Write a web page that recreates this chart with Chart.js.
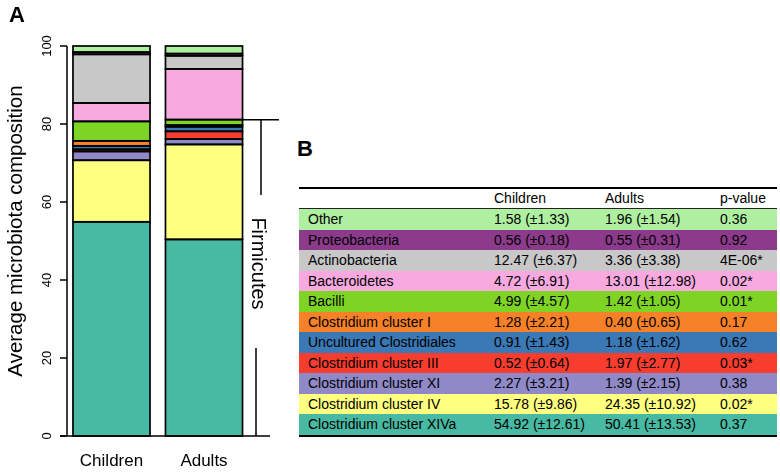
<!doctype html>
<html lang="en">
<head>
<meta charset="utf-8">
<title>Average microbiota composition</title>
<script src="https://cdn.jsdelivr.net/npm/chart.js@4.4.1/dist/chart.umd.min.js"></script>
<style>
  html, body { margin: 0; padding: 0; background: #fff; }
  body { font-family: "Liberation Sans", Arial, Helvetica, sans-serif; }
  #wrap { position: relative; width: 780px; height: 472px; overflow: hidden; }
  #chart { position: absolute; left: 0; top: 0; }
  #labelB { position: absolute; left: 297px; top: 136px; font-size: 22px; font-weight: bold; }
  #tbl {
    position: absolute; left: 299px; top: 187px; width: 478px;
    border-collapse: collapse; table-layout: fixed; font-size: 14px; color: #000;
    border-top: 2px solid #000; border-bottom: 2px solid #000;
  }
  #tbl td, #tbl th { padding: 0 0 0 7px; height: 20.5px; line-height: 20.5px; white-space: nowrap; text-align: left; font-weight: normal; }
  #tbl thead th { height: 19px; line-height: 19px; padding-top: 0; border-bottom: 1.5px solid #222; }
  #tbl td:first-child { padding-left: 9px; }
</style>
</head>
<body>
<div id="wrap">
  <canvas id="chart" width="290" height="472"></canvas>
  <div id="labelB">B</div>
  <table id="tbl">
    <colgroup><col style="width:188px"><col style="width:111px"><col style="width:115px"><col style="width:64px"></colgroup>
    <thead><tr><th></th><th>Children</th><th>Adults</th><th>p-value</th></tr></thead>
    <tbody id="tbody"></tbody>
  </table>
</div>
<script>
// table order (top to bottom); the bars stack in the reverse order
var groups = ['Other', 'Proteobacteria', 'Actinobacteria', 'Bacteroidetes', 'Bacilli',
  'Clostridium cluster I', 'Uncultured Clostridiales', 'Clostridium cluster III',
  'Clostridium cluster XI', 'Clostridium cluster IV', 'Clostridium cluster XIVa'];
var colors = ['#aef0a0', '#8c3a8c', '#c8c8c8', '#f8aae0', '#7ed424', '#f78128',
  '#3a78b6', '#f73d2e', '#8f89c8', '#ffff80', '#48b9a2'];
var childrenMean = [1.58, 0.56, 12.47, 4.72, 4.99, 1.28, 0.91, 0.52, 2.27, 15.78, 54.92];
var childrenSd = [1.33, 0.18, 6.37, 6.91, 4.57, 2.21, 1.43, 0.64, 3.21, 9.86, 12.61];
var adultsMean = [1.96, 0.55, 3.36, 13.01, 1.42, 0.40, 1.18, 1.97, 1.39, 24.35, 50.41];
var adultsSd = [1.54, 0.31, 3.38, 12.98, 1.05, 0.65, 1.62, 2.77, 2.15, 10.92, 13.53];
var pValues = ['0.36', '0.92', '4E-06*', '0.02*', '0.01*', '0.17', '0.62', '0.03*', '0.38', '0.02*', '0.37'];
var categories = ['Children', 'Adults'];
var yTicks = [0, 20, 40, 60, 80, 100];
var firmicutes = ['Bacilli', 'Clostridium cluster I', 'Uncultured Clostridiales', 'Clostridium cluster III',
  'Clostridium cluster XI', 'Clostridium cluster IV', 'Clostridium cluster XIVa'];

var FONT = '"Liberation Sans", Arial, Helvetica, sans-serif';

// table B
var tbody = document.getElementById('tbody');
groups.forEach(function (g, i) {
  var tr = document.createElement('tr');
  tr.style.background = colors[i];
  var cells = [g,
    childrenMean[i].toFixed(2) + ' (\u00b1' + childrenSd[i].toFixed(2) + ')',
    adultsMean[i].toFixed(2) + ' (\u00b1' + adultsSd[i].toFixed(2) + ')',
    pValues[i]];
  cells.forEach(function (c) {
    var td = document.createElement('td');
    td.textContent = c;
    tr.appendChild(td);
  });
  tbody.appendChild(tr);
});

// bars, bottom segment first
var datasets = [];
for (var i = groups.length - 1; i >= 0; i--) {
  datasets.push({
    label: groups[i],
    data: [childrenMean[i], adultsMean[i]],
    backgroundColor: colors[i],
    borderWidth: 0
  });
}

// R-style outlines: one stroke centred on each segment edge
var outlines = {
  id: 'outlines',
  afterDatasetsDraw: function (chart) {
    var ctx = chart.ctx;
    ctx.save();
    ctx.strokeStyle = '#000';
    ctx.lineWidth = 1.7;
    chart.data.datasets.forEach(function (ds, di) {
      chart.getDatasetMeta(di).data.forEach(function (bar) {
        var p = bar.getProps(['x', 'y', 'base', 'width'], true);
        ctx.strokeRect(p.x - p.width / 2, p.y, p.width, p.base - p.y);
      });
    });
    ctx.restore();
  }
};

var decorations = {
  id: 'decorations',
  afterDraw: function (chart) {
    var ctx = chart.ctx;
    var y = chart.scales.y, x = chart.scales.x;
    var axisX = 67;
    ctx.save();
    ctx.strokeStyle = '#000';
    ctx.fillStyle = '#000';
    ctx.lineWidth = 1.5;

    // panel letter
    ctx.font = 'bold 22px ' + FONT;
    ctx.textAlign = 'left';
    ctx.textBaseline = 'alphabetic';
    ctx.fillText('A', 9, 22);

    // y axis
    ctx.beginPath();
    ctx.moveTo(axisX, y.getPixelForValue(0));
    ctx.lineTo(axisX, y.getPixelForValue(100));
    yTicks.forEach(function (t) {
      var py = y.getPixelForValue(t);
      ctx.moveTo(axisX - 7, py);
      ctx.lineTo(axisX, py);
    });
    ctx.stroke();
    ctx.font = '13px ' + FONT;
    ctx.textAlign = 'center';
    ctx.textBaseline = 'middle';
    yTicks.forEach(function (t) {
      ctx.save();
      ctx.translate(47, y.getPixelForValue(t));
      ctx.rotate(-Math.PI / 2);
      ctx.fillText(String(t), 0, 0);
      ctx.restore();
    });

    // y title
    ctx.save();
    ctx.font = '20.5px ' + FONT;
    ctx.translate(16, 231);
    ctx.rotate(-Math.PI / 2);
    ctx.fillText('Average microbiota composition', 0, 0);
    ctx.restore();

    // x labels
    ctx.font = '17px ' + FONT;
    categories.forEach(function (c, i) {
      ctx.fillText(c, x.getPixelForValue(i), 461);
    });

    // Firmicutes bracket
    var top = 0;
    firmicutes.forEach(function (g) { top += adultsMean[groups.indexOf(g)]; });
    var pTop = y.getPixelForValue(top), pBase = y.getPixelForValue(0);
    ctx.beginPath();
    ctx.moveTo(axisX - 7, pBase); ctx.lineTo(270, pBase);
    ctx.moveTo(243, pTop); ctx.lineTo(279, pTop);
    ctx.moveTo(261, pTop); ctx.lineTo(261, 195);
    ctx.moveTo(256, 348); ctx.lineTo(256, pBase);
    ctx.stroke();
    ctx.save();
    ctx.font = '20px ' + FONT;
    ctx.translate(258, 263.5);
    ctx.rotate(Math.PI / 2);
    ctx.fillText('Firmicutes', 0, 0);
    ctx.restore();

    ctx.restore();
  }
};

new Chart(document.getElementById('chart').getContext('2d'), {
  type: 'bar',
  data: { labels: categories, datasets: datasets },
  options: {
    responsive: false,
    animation: false,
    layout: { padding: { left: 65.25, right: 39.75, top: 46, bottom: 36 } },
    datasets: { bar: { barPercentage: 0.833, categoryPercentage: 1.0 } },
    scales: {
      x: { stacked: true, display: false },
      y: { stacked: true, display: false, min: 0, max: 100 }
    },
    plugins: { legend: { display: false }, tooltip: { enabled: false } }
  },
  plugins: [outlines, decorations]
});
</script>
</body>
</html>
